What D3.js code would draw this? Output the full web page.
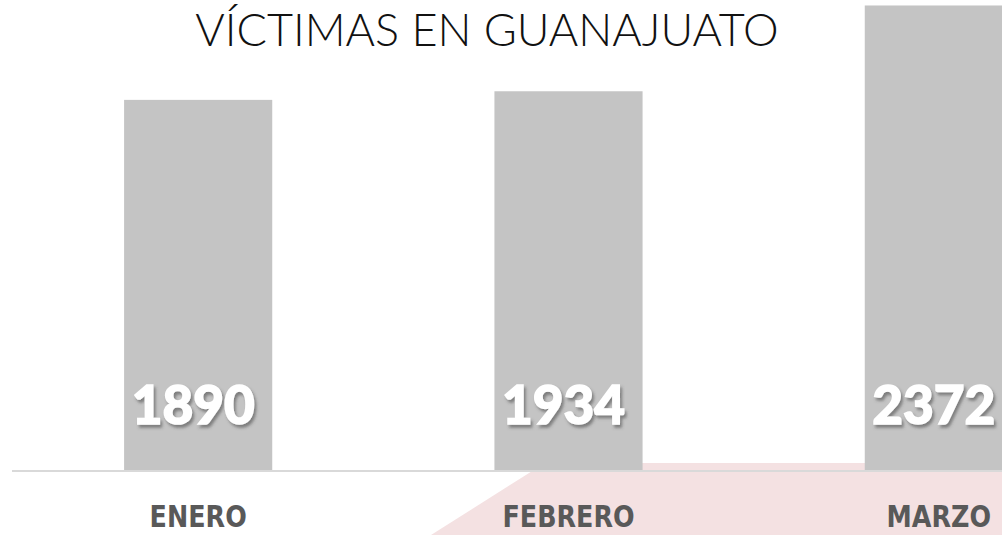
<!DOCTYPE html>
<html>
<head>
<meta charset="utf-8">
<script src="https://cdn.jsdelivr.net/npm/d3@7"></script>
<style>
  html, body { margin: 0; padding: 0; background: #fff; }
  svg { display: block; }
</style>
</head>
<body>
<div id="chart"></div>
<script>
var months = ["ENERO", "FEBRERO", "MARZO"];
var victims = [1890, 1934, 2372];
var title = "VÍCTIMAS EN GUANAJUATO";

var width = 1002, height = 535;
var baseY = 470;

var svg = d3.select("#chart").append("svg").attr("width", width).attr("height", height);

// sombra de los números
var defs = svg.append("defs");
var f = defs.append("filter").attr("id", "sombra").attr("x", "-20%").attr("y", "-20%").attr("width", "140%").attr("height", "150%");
f.append("feDropShadow").attr("dx", 2).attr("dy", 3).attr("stdDeviation", 1.8)
  .attr("flood-color", "#444").attr("flood-opacity", 0.55);

var xScale = d3.scaleBand().domain(months).range([13, 1124]).paddingInner(0.6).paddingOuter(0.3);
var yScale = d3.scaleLinear().domain([0, 2400]).range([baseY, 0]);

// fondo rosa
svg.append("path")
  .attr("d", "M" + 545 + "," + 463 + "L" + width + "," + 463 + "L" + width + "," + height + "L" + 431 + "," + height + "Z")
  .attr("fill", "#f4e1e2");

// barras
svg.selectAll(".bar").data(victims).enter().append("rect")
  .attr("x", function(d, i) { return xScale(months[i]); })
  .attr("y", function(d) { return yScale(d); })
  .attr("width", xScale.bandwidth())
  .attr("height", function(d) { return baseY - yScale(d); })
  .attr("fill", "#c4c4c4");

// línea base
svg.append("line").attr("x1", 12).attr("x2", width).attr("y1", baseY + 1).attr("y2", baseY + 1)
  .attr("stroke", "#d9d9d9").attr("stroke-width", 2);

// título
svg.append("text").text(title)
  .attr("x", 487).attr("y", 46).attr("text-anchor", "middle")
  .attr("font-family", "Lato, 'Open Sans', sans-serif").attr("font-weight", 300)
  .attr("font-size", 45).attr("fill", "#111");

// valores
svg.selectAll(".val").data(victims).enter().append("text")
  .text(function(d) { return d; })
  .attr("x", function(d, i) { return xScale(months[i]) + xScale.bandwidth() / 2 - 5; })
  .attr("y", 424).attr("text-anchor", "middle")
  .attr("font-family", "Lato, sans-serif").attr("font-weight", 900)
  .attr("font-size", 53).attr("fill", "#fff")
  .attr("stroke", "#fff").attr("stroke-width", 1.5)
  .attr("filter", "url(#sombra)");

// meses (letra estrecha: se comprime en horizontal)
svg.selectAll(".mes").data(months).enter().append("text")
  .text(function(d) { return d; })
  .attr("transform", function(d) { return "translate(" + (xScale(d) + xScale.bandwidth() / 2) + ",527) scale(0.82,1)"; })
  .attr("text-anchor", "middle")
  .attr("font-family", "'DejaVu Sans', sans-serif").attr("font-weight", 700)
  .attr("font-size", 31).attr("fill", "#595959");
</script>
</body>
</html>
